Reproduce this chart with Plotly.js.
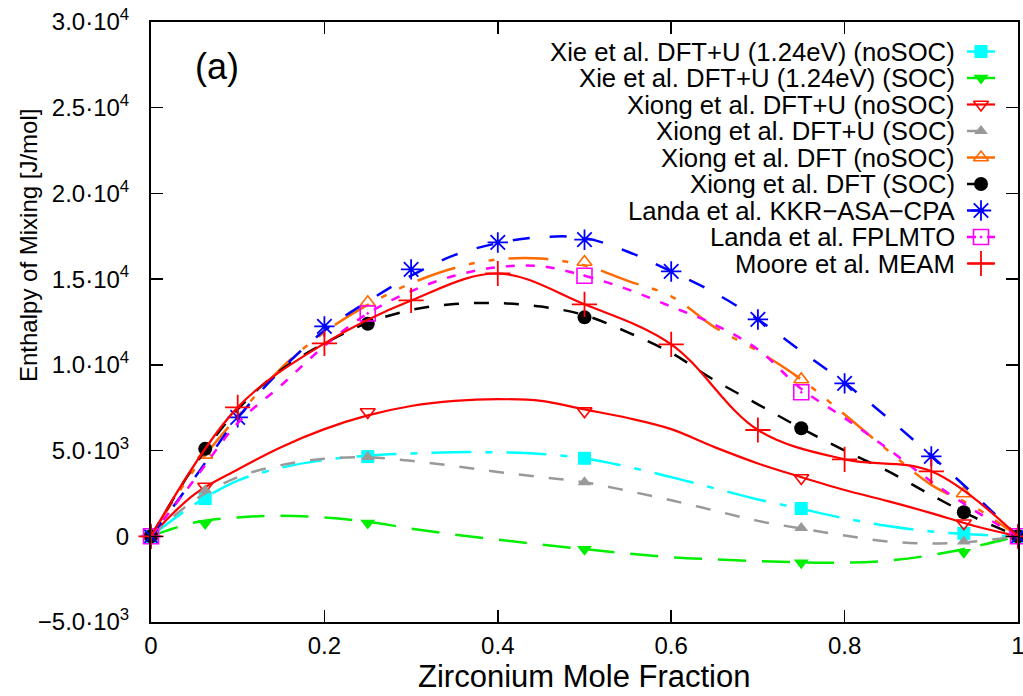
<!DOCTYPE html>
<html>
<head>
<meta charset="utf-8">
<script src="https://cdn.plot.ly/plotly-3.0.1.min.js"></script>
<style>html,body{margin:0;padding:0;background:#fff;}#chart{width:1023px;height:696px;}</style>
</head>
<body>
<div id="chart"></div>
<script>
// ---------- data ----------
const xXie = [0, 0.0625, 0.25, 0.5, 0.75, 0.9375, 1];
const xieNoSOC = [0, 2200, 4650, 4550, 1620, 170, 0];
const xieSOC = [0, 750, 780, -750, -1550, -930, 0];
const xiongUNoSOC = [0, 2900, 7250, 7300, 3400, 760, 0];
const xiongUSOC = [0, 2680, 4620, 3150, 480, -300, 0];
const xiongDFTNoSOC = [0, 4750, 13650, 16000, 9150, 2500, 0];
const xiongDFTSOC = [0, 5100, 12400, 12770, 6300, 1400, 0];
const xLandaKKR = [0, 0.1, 0.2, 0.3, 0.4, 0.5, 0.6, 0.7, 0.8, 0.9, 1];
const landaKKR = [0, 6940, 12240, 15570, 17140, 17300, 15450, 12650, 8920, 4660, 0];
const xLandaFP = [0, 0.25, 0.5, 0.75, 1];
const landaFP = [0, 13000, 15200, 8400, 0];
const xMoore = [0, 0.1, 0.2, 0.3, 0.4, 0.5, 0.6, 0.7, 0.8, 0.9, 1];
const moore = [0, 7520, 11250, 13760, 15330, 13530, 11200, 6200, 4490, 3790, 0];

// fitted curves
const xFit = [0, 0.05, 0.1, 0.15, 0.2, 0.25, 0.3, 0.35, 0.4, 0.45, 0.5, 0.55, 0.6, 0.65, 0.7, 0.75, 0.8, 0.85, 0.9, 0.95, 1];
const fitXieNoSOC = [0, 1850, 3250, 4000, 4450, 4700, 4830, 4900, 4900, 4800, 4550, 4050, 3450, 2800, 2150, 1600, 1050, 600, 280, 100, 0];
const fitXieSOC = [0, 800, 1100, 1200, 1100, 850, 450, 100, -200, -480, -750, -1000, -1220, -1350, -1450, -1520, -1540, -1420, -1100, -600, 0];
const fitXiongUNoSOC = [0, 2450, 3900, 5200, 6250, 7050, 7600, 7900, 8000, 7900, 7400, 6900, 6250, 5200, 4250, 3450, 2700, 2050, 1350, 600, 0];
const fitXiongUSOC = [0, 2100, 3450, 4150, 4520, 4600, 4400, 4100, 3750, 3450, 3150, 2650, 2100, 1500, 900, 450, 50, -300, -420, -300, 0];
const fitXiongDFTNoSOC = [0, 3900, 7000, 9800, 11900, 13500, 14750, 15650, 16150, 16200, 15800, 14900, 14000, 12200, 10800, 9150, 7100, 5000, 3000, 1700, 0];
const fitXiongDFTSOC = [0, 4100, 7400, 9700, 11250, 12450, 13200, 13550, 13600, 13400, 12900, 11900, 10700, 9100, 7700, 6300, 5000, 3800, 2400, 1100, 0];
const fitLandaKKR = [0, 3400, 6900, 9700, 12000, 13700, 15200, 16400, 17100, 17450, 17400, 16600, 15450, 14200, 12650, 10800, 8950, 6900, 4700, 2400, 0];
const fitLandaFP = [0, 3300, 6600, 8800, 11100, 13000, 14300, 15200, 15700, 15750, 15200, 14400, 13400, 12350, 10900, 8600, 6900, 5100, 3200, 1500, 0];

const legendLabels = [
  'Xie et al. DFT+U (1.24eV) (noSOC)',
  'Xie et al. DFT+U (1.24eV) (SOC)',
  'Xiong et al. DFT+U (noSOC)',
  'Xiong et al. DFT+U (SOC)',
  'Xiong et al. DFT (noSOC)',
  'Xiong et al. DFT (SOC)',
  'Landa et al. KKR\u2212ASA\u2212CPA',
  'Landa et al. FPLMTO',
  'Moore et al. MEAM'
];
const xTickVals = [0, 0.2, 0.4, 0.6, 0.8, 1];
const xTickText = ['0', '0.2', '0.4', '0.6', '0.8', '1'];
const yTickVals = [-5000, 0, 5000, 10000, 15000, 20000, 25000, 30000];
const yTickText = ['\u22125.0\u00b710<sup>3</sup>', '0', '5.0\u00b710<sup>3</sup>', '1.0\u00b710<sup>4</sup>',
  '1.5\u00b710<sup>4</sup>', '2.0\u00b710<sup>4</sup>', '2.5\u00b710<sup>4</sup>', '3.0\u00b710<sup>4</sup>'];

// ---------- styles ----------
const FONT = 'Liberation Sans, Arial, Helvetica, sans-serif';
const series = [
  {x: xXie, y: xieNoSOC, fit: fitXieNoSOC, color: '#00ffff', dash: '40px,14px,7px,14px', width: 2.5,
   marker: {symbol: 'square', size: 13}},
  {x: xXie, y: xieSOC, fit: fitXieSOC, color: '#00ee00', dash: '28px,16px', width: 2.5,
   marker: {symbol: 'triangle-down', size: 13}},
  {x: xXie, y: xiongUNoSOC, fit: fitXiongUNoSOC, color: '#ff0000', dash: 'solid', width: 2.2,
   marker: {symbol: 'triangle-down-open', size: 13, line: {width: 1.6}}},
  {x: xXie, y: xiongUSOC, fit: fitXiongUSOC, color: '#999999', dash: '15px,15px', width: 2.5,
   marker: {symbol: 'triangle-up', size: 12}},
  {x: xXie, y: xiongDFTNoSOC, fit: fitXiongDFTNoSOC, color: '#ff6a00', dash: '40px,14px,6px,14px,6px,14px', width: 2.5,
   marker: {symbol: 'triangle-up-open', size: 13, line: {width: 1.6}}},
  {x: xXie, y: xiongDFTSOC, fit: fitXiongDFTSOC, color: '#000000', dash: '15px,15px', width: 2.5,
   marker: {symbol: 'circle', size: 14}},
  {x: xLandaKKR, y: landaKKR, fit: fitLandaKKR, color: '#0000ff', dash: '17px,20px', width: 2.5,
   marker: {symbol: 'asterisk-open', size: 17, line: {width: 1.8}}},
  {x: xLandaFP, y: landaFP, fit: fitLandaFP, color: '#ff00ff', dash: '9px,11px', width: 2.5,
   marker: {symbol: 'square-open-dot', size: 15, line: {width: 1.6}}},
  {x: xMoore, y: moore, fit: null, color: '#ff0000', dash: 'solid', width: 2.2,
   marker: {symbol: 'cross-thin-open', size: 18, line: {width: 1.8}}}
];

const traces = [];
series.forEach(s => {
  const mk = Object.assign({color: s.color}, s.marker);
  if (s.marker.line) mk.line = Object.assign({color: s.color}, s.marker.line);
  const lx = s.fit ? xFit : s.x;
  const ly = s.fit ? s.fit : s.y;
  traces.push({x: lx, y: ly, type: 'scatter', mode: 'lines', showlegend: false, hoverinfo: 'skip',
    line: {color: s.color, dash: s.dash, width: s.width, shape: 'spline', smoothing: 1}});
  traces.push({x: s.x, y: s.y, type: 'scatter', mode: 'markers', showlegend: false, cliponaxis: false,
    marker: mk});
});

// ---------- legend (drawn on a pixel-unit overlay axis) ----------
const PL = 151, PR = 1018, PT = 22, PB = 622;
const rowY0 = 51.5, rowDy = 26.5;
const sampleX0 = 967, sampleX1 = 995, sampleXM = 981, textRight = 957;
const annotations = [];
series.forEach((s, i) => {
  const yy = rowY0 + i * rowDy;
  const mk = Object.assign({color: s.color}, s.marker);
  if (s.marker.line) mk.line = Object.assign({color: s.color}, s.marker.line);
  traces.push({x: [sampleX0, sampleX1], y: [yy, yy], xaxis: 'x2', yaxis: 'y2', type: 'scatter', mode: 'lines',
    showlegend: false, hoverinfo: 'skip', line: {color: s.color, dash: s.dash, width: s.width}});
  traces.push({x: [sampleXM], y: [yy], xaxis: 'x2', yaxis: 'y2', type: 'scatter', mode: 'markers',
    showlegend: false, hoverinfo: 'skip', cliponaxis: false, marker: mk});
  annotations.push({xref: 'x2', yref: 'y2', x: textRight, y: yy, xanchor: 'right', yanchor: 'middle',
    text: legendLabels[i], showarrow: false, font: {family: FONT, size: 25.7, color: '#000'}});
});

const px = p => (p - PL) / (PR - PL);
const py = p => (PB - p) / (PB - PT);
annotations.push({xref: 'paper', yref: 'paper', x: px(217), y: py(66), xanchor: 'center', yanchor: 'middle',
  text: '(a)', showarrow: false, font: {family: FONT, size: 36, color: '#000'}});
annotations.push({xref: 'paper', yref: 'paper', x: px(584), y: py(677), xanchor: 'center', yanchor: 'middle',
  text: 'Zirconium Mole Fraction', showarrow: false, font: {family: FONT, size: 31, color: '#000'}});
annotations.push({xref: 'paper', yref: 'paper', x: px(28), y: py(245), xanchor: 'center', yanchor: 'middle',
  textangle: -90, text: 'Enthalpy of Mixing [J/mol]', showarrow: false,
  font: {family: FONT, size: 24, color: '#000'}});

const axisCommon = {
  ticks: 'inside', ticklen: 12, tickwidth: 1.5, tickcolor: '#000',
  showline: true, linewidth: 2, linecolor: '#000', mirror: 'ticks',
  showgrid: false, zeroline: false, ticklabeloverflow: 'allow',
  tickfont: {family: FONT, size: 24, color: '#000'}
};

const layout = {
  width: 1023, height: 696,
  margin: {l: PL, r: 1023 - PR, t: PT, b: 696 - PB, pad: 0},
  paper_bgcolor: '#fff', plot_bgcolor: '#fff',
  showlegend: false,
  xaxis: Object.assign({}, axisCommon, {range: [0, 1], tickmode: 'array', tickvals: xTickVals, ticktext: xTickText, ticklabelstandoff: 1}),
  yaxis: Object.assign({}, axisCommon, {range: [-5000, 30000], tickmode: 'array', tickvals: yTickVals, ticktext: yTickText, ticklabelstandoff: 15}),
  xaxis2: {overlaying: 'x', anchor: 'y2', range: [PL, PR], visible: false, fixedrange: true},
  yaxis2: {overlaying: 'y', anchor: 'x2', range: [PB, PT], visible: false, fixedrange: true},
  annotations: annotations
};

Plotly.newPlot('chart', traces, layout, {displayModeBar: false, staticPlot: true});
</script>
</body>
</html>
